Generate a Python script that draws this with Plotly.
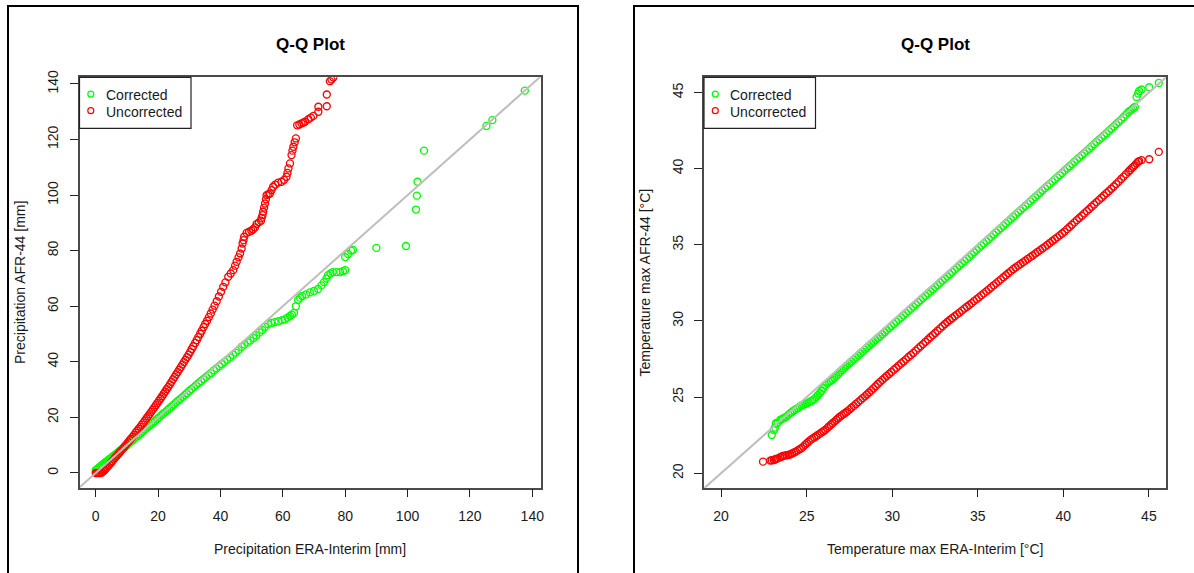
import plotly.graph_objects as go

# ---------------- data ----------------
# Precipitation quantiles [mm]: ERA-Interim (x) vs AFR-44 (y)
PR_ERA_COR = [0.0, 0.4, 0.8, 1.2, 1.7, 2.1, 2.6, 3.0, 3.5, 4.0, 4.5, 5.0, 5.5, 6.0, 6.6, 7.1, 7.7, 8.2, 8.8, 9.3,
              9.9, 10.5, 11.1, 11.7, 12.3, 12.9, 13.5, 14.1, 14.7, 15.3, 15.9, 16.5, 17.1, 17.8, 18.4, 19.0, 19.7,
              20.3, 21.0, 21.6, 22.3, 23.0, 23.6, 24.3, 25.0, 25.7, 26.4, 27.1, 27.8, 28.5, 29.2, 30.0, 30.7, 31.5,
              32.2, 33.0, 33.8, 34.6, 35.4, 36.2, 37.0, 37.9, 38.7, 39.6, 40.4, 41.3, 42.2, 43.1, 44.0, 44.9, 45.8,
              46.8, 47.7, 48.7, 49.6, 50.6, 51.5, 52.5, 53.4, 54.3, 55.3, 56.3, 57.4, 58.6, 59.8, 60.7, 61.5, 62.3,
              62.9, 63.6, 64.2, 64.9, 65.5, 66.2, 67.5, 68.7, 70.0, 71.3, 72.4, 73.2, 74.0, 74.5, 75.3, 76.0, 77.2,
              78.4, 79.3, 80.0, 80.0, 80.9, 81.9, 82.5, 90.0, 99.5, 102.7, 103.0, 103.2, 105.3, 125.3, 127.2, 137.6]
PR_AFR_COR = [1.0, 1.3, 1.7, 2.1, 2.6, 2.9, 3.4, 3.8, 4.2, 4.6, 5.1, 5.5, 6.0, 6.4, 6.9, 7.4, 8.0, 8.4, 9.0, 9.4,
              9.9, 10.5, 11.1, 11.6, 12.2, 12.8, 13.4, 13.9, 14.5, 15.1, 15.7, 16.3, 16.9, 17.5, 18.1, 18.7, 19.4,
              20.0, 20.7, 21.3, 21.9, 22.6, 23.2, 23.9, 24.6, 25.3, 26.0, 26.6, 27.3, 28.0, 28.7, 29.5, 30.2, 30.9,
              31.6, 32.4, 33.1, 33.8, 34.6, 35.3, 36.0, 36.9, 37.6, 38.4, 39.2, 40.0, 40.8, 41.6, 42.5, 43.3, 44.2,
              45.4, 46.2, 47.0, 47.7, 48.6, 49.5, 50.6, 51.5, 52.6, 53.6, 54.0, 54.3, 54.6, 55.0, 55.3, 55.9, 56.5,
              57.0, 57.6, 60.0, 62.3, 63.1, 63.7, 64.3, 65.0, 65.5, 66.2, 67.5, 68.7, 70.0, 71.2, 71.8, 72.3, 72.3,
              72.3, 72.6, 73.0, 77.7, 78.8, 80.0, 80.3, 81.0, 81.7, 94.8, 99.8, 104.8, 116.0, 124.9, 127.0, 137.6]

PR_ERA_UNC = [0.0, 0.3, 0.7, 1.0, 1.4, 1.8, 2.1, 2.5, 2.8, 3.2, 3.6, 4.0, 4.4, 4.9, 5.3, 5.8, 6.2, 6.7, 7.1, 7.6,
              8.0, 8.5, 9.0, 9.4, 9.9, 10.4, 10.9, 11.3, 11.8, 12.3, 12.8, 13.3, 13.8, 14.3, 14.8, 15.3, 15.8, 16.3,
              16.8, 17.3, 17.8, 18.3, 18.8, 19.3, 19.8, 20.3, 20.8, 21.3, 21.8, 22.3, 22.8, 23.3, 23.8, 24.3, 24.8,
              25.3, 25.8, 26.3, 26.8, 27.3, 27.8, 28.3, 28.8, 29.3, 29.8, 30.3, 30.8, 31.3, 31.9, 32.4, 32.9, 33.5,
              34.0, 34.6, 35.1, 35.7, 36.3, 36.9, 37.5, 38.1, 38.8, 39.5, 40.2, 40.9, 41.6, 42.5, 43.3, 44.1, 44.7,
              45.2, 45.8, 46.3, 46.8, 47.1, 47.4, 47.6, 48.4, 49.2, 49.9, 50.5, 51.1, 51.6, 52.3, 53.0, 53.2, 53.5,
              53.7, 54.0, 54.3, 54.6, 54.8, 55.4, 55.9, 56.4, 56.9, 57.6, 58.5, 59.6, 60.4, 61.2, 61.5, 61.8, 62.3,
              62.8, 63.1, 63.4, 63.8, 64.2, 64.6, 65.3, 66.0, 66.6, 67.1, 68.2, 69.0, 69.8, 71.4, 71.4, 74.1, 74.1,
              75.1, 75.6, 76.2]
PR_AFR_UNC = [0.0, 0.0, 0.0, 0.0, 0.0, 0.1, 0.3, 0.7, 1.0, 1.5, 2.0, 2.5, 3.0, 3.7, 4.2, 4.9, 5.5, 6.1, 6.6, 7.3,
              7.8, 8.5, 9.1, 9.7, 10.4, 11.1, 11.8, 12.3, 13.0, 13.7, 14.5, 15.2, 15.9, 16.6, 17.4, 18.1, 18.9, 19.7,
              20.4, 21.2, 22.0, 22.8, 23.6, 24.4, 25.2, 26.0, 26.8, 27.6, 28.5, 29.3, 30.2, 31.0, 31.9, 32.8, 33.7,
              34.6, 35.5, 36.3, 37.2, 38.1, 39.0, 39.9, 40.8, 41.7, 42.6, 43.6, 44.6, 45.6, 46.8, 47.8, 48.9, 50.1,
              51.2, 52.5, 53.6, 54.8, 56.1, 57.4, 58.8, 60.2, 61.8, 63.5, 65.2, 67.0, 68.6, 70.6, 71.8, 73.0, 74.6,
              76.0, 77.6, 79.0, 80.8, 82.6, 83.8, 85.0, 86.4, 86.8, 87.2, 87.7, 88.4, 89.6, 90.2, 90.8, 91.8, 92.8,
              94.0, 95.5, 97.0, 98.5, 100.0, 100.3, 100.6, 101.8, 103.0, 103.8, 104.5, 104.8, 105.5, 106.6, 108.0,
              109.6, 111.4, 114.4, 116.0, 117.4, 119.0, 120.4, 125.1, 125.4, 125.8, 126.1, 126.4, 127.3, 127.9,
              128.5, 130.0, 131.8, 132.0, 136.2, 141.0, 141.6, 142.3]

# Maximum temperature quantiles [°C]: ERA-Interim (x) vs AFR-44 (y)
TX_ERA = [22.45, 22.87, 22.96, 23.08, 23.15, 23.2, 23.3, 23.45, 23.55, 23.62, 23.72, 23.82, 23.94, 24.05, 24.15,
          24.26, 24.37, 24.48, 24.59, 24.69, 24.8, 24.9, 25.01, 25.12, 25.23, 25.33, 25.44, 25.55, 25.65, 25.77,
          25.87, 25.98, 26.08, 26.2, 26.3, 26.41, 26.51, 26.62, 26.73, 26.84, 26.94, 27.05, 27.16, 27.27, 27.37,
          27.5, 27.62, 27.75, 27.88, 28.01, 28.14, 28.27, 28.4, 28.52, 28.65, 28.78, 28.9, 29.03, 29.16, 29.29,
          29.42, 29.55, 29.68, 29.82, 29.95, 30.1, 30.24, 30.38, 30.52, 30.66, 30.8, 30.95, 31.09, 31.23, 31.38,
          31.52, 31.66, 31.8, 31.94, 32.09, 32.23, 32.37, 32.51, 32.65, 32.8, 32.94, 33.08, 33.22, 33.36, 33.5,
          33.65, 33.79, 33.93, 34.07, 34.22, 34.36, 34.5, 34.64, 34.78, 34.93, 35.07, 35.21, 35.35, 35.5, 35.64,
          35.78, 35.93, 36.07, 36.21, 36.35, 36.5, 36.64, 36.78, 36.93, 37.07, 37.21, 37.36, 37.5, 37.64, 37.78,
          37.93, 38.07, 38.21, 38.36, 38.5, 38.64, 38.78, 38.93, 39.07, 39.21, 39.36, 39.5, 39.64, 39.79, 39.93,
          40.07, 40.22, 40.36, 40.5, 40.65, 40.79, 40.93, 41.08, 41.22, 41.37, 41.51, 41.65, 41.8, 41.94, 42.09,
          42.23, 42.37, 42.52, 42.66, 42.8, 42.95, 43.09, 43.23, 43.38, 43.52, 43.66, 43.8, 43.89, 43.99, 44.08,
          44.18, 44.28, 44.37, 44.43, 44.57, 45.02, 45.58]
# corrected series starts at the third ERA quantile
TX_AFR_COR = [22.51, 22.84, 23.0, 23.28, 23.3, 23.5, 23.55, 23.6, 23.65, 23.72, 23.85, 23.95, 24.04, 24.12, 24.2,
              24.28, 24.37, 24.45, 24.5, 24.55, 24.59, 24.65, 24.72, 24.78, 24.85, 25.0, 25.12, 25.25, 25.42, 25.6,
              25.79, 25.9, 26.0, 26.07, 26.15, 26.27, 26.4, 26.52, 26.64, 26.76, 26.88, 26.99, 27.1, 27.22, 27.34,
              27.47, 27.6, 27.73, 27.86, 27.99, 28.12, 28.24, 28.37, 28.5, 28.62, 28.75, 28.88, 29.0, 29.13, 29.26,
              29.39, 29.53, 29.66, 29.81, 29.95, 30.09, 30.23, 30.37, 30.51, 30.66, 30.8, 30.94, 31.09, 31.23, 31.37,
              31.51, 31.65, 31.8, 31.94, 32.08, 32.22, 32.36, 32.51, 32.65, 32.79, 32.93, 33.07, 33.21, 33.36, 33.5,
              33.64, 33.79, 33.94, 34.08, 34.22, 34.37, 34.51, 34.66, 34.8, 34.95, 35.09, 35.24, 35.38, 35.52, 35.68,
              35.82, 35.96, 36.1, 36.25, 36.4, 36.54, 36.69, 36.84, 36.98, 37.13, 37.27, 37.41, 37.55, 37.7, 37.85,
              37.99, 38.14, 38.28, 38.42, 38.57, 38.72, 38.86, 39.0, 39.15, 39.29, 39.43, 39.58, 39.72, 39.87, 40.02,
              40.16, 40.3, 40.45, 40.59, 40.73, 40.88, 41.02, 41.17, 41.31, 41.46, 41.61, 41.75, 41.9, 42.04, 42.18,
              42.33, 42.48, 42.62, 42.77, 42.92, 43.06, 43.22, 43.38, 43.55, 43.7, 43.8, 43.88, 43.97, 44.06, 44.71,
              44.93, 45.1, 45.2, 45.35, 45.63]
TX_AFR_UNC = [20.76, 20.83, 20.85, 20.87, 20.9, 20.93, 20.98, 21.05, 21.1, 21.14, 21.16, 21.18, 21.2, 21.25, 21.3,
              21.36, 21.42, 21.5, 21.58, 21.64, 21.75, 21.86, 21.97, 22.08, 22.19, 22.27, 22.35, 22.43, 22.51, 22.6,
              22.68, 22.76, 22.84, 22.96, 23.07, 23.18, 23.28, 23.39, 23.5, 23.61, 23.71, 23.8, 23.89, 23.97, 24.06,
              24.18, 24.3, 24.42, 24.55, 24.67, 24.8, 24.93, 25.05, 25.17, 25.3, 25.44, 25.57, 25.71, 25.86, 26.0,
              26.13, 26.26, 26.39, 26.52, 26.65, 26.8, 26.93, 27.07, 27.21, 27.34, 27.48, 27.63, 27.76, 27.9, 28.05,
              28.2, 28.34, 28.48, 28.63, 28.78, 28.93, 29.07, 29.21, 29.36, 29.51, 29.65, 29.8, 29.93, 30.06, 30.18,
              30.31, 30.43, 30.55, 30.68, 30.81, 30.93, 31.05, 31.17, 31.3, 31.43, 31.55, 31.68, 31.81, 31.94, 32.07,
              32.2, 32.34, 32.47, 32.6, 32.73, 32.87, 33.0, 33.13, 33.27, 33.4, 33.51, 33.63, 33.74, 33.85, 33.96,
              34.08, 34.19, 34.3, 34.42, 34.54, 34.65, 34.76, 34.88, 35.0, 35.12, 35.25, 35.37, 35.49, 35.62, 35.74,
              35.87, 36.03, 36.17, 36.32, 36.47, 36.62, 36.76, 36.91, 37.06, 37.21, 37.35, 37.5, 37.65, 37.8, 37.95,
              38.09, 38.24, 38.39, 38.53, 38.68, 38.83, 38.99, 39.15, 39.32, 39.48, 39.64, 39.8, 39.9, 40.02, 40.12,
              40.23, 40.35, 40.45, 40.5, 40.56, 40.62, 41.1]

PR_TICKS = [0, 20, 40, 60, 80, 100, 120, 140]
TX_TICKS = [20, 25, 30, 35, 40, 45]

PR_RANGE_X = [-5.2, 142.8]
PR_RANGE_Y = [-5.3, 142.4]
TX_RANGE_X = [19.0, 46.0]
TX_RANGE_Y = [19.05, 46.0]

LEGEND_LABELS = ["Corrected", "Uncorrected"]
GREEN, RED, GREY = "#00ff00", "#ff0000", "#bebebe"

# ---------------- layout helpers (pixel -> paper) ----------------
W, H = 1194, 573
FONT = "Liberation Sans, Arial, sans-serif"
TXT = "#1a1a1a"


def fx(p):
    return p / W


def fy(p):
    return 1 - p / H


BOX_TOP, BOX_BOTTOM = 77.3, 487.7
PANELS = [
    dict(left=79.5, right=541.0, frame=(8, 578)),
    dict(left=704.0, right=1166.0, frame=(634, 1260)),
]

fig = go.Figure()


def point_trace(x, y, color, xa, ya):
    return go.Scatter(
        x=x, y=y, mode="markers", xaxis=xa, yaxis=ya, showlegend=False, hoverinfo="skip",
        marker=dict(symbol="circle-open", size=7, color=color, line=dict(width=1.35, color=color)),
    )


# left panel: precipitation
fig.add_trace(point_trace(PR_ERA_COR, PR_AFR_COR, GREEN, "x", "y"))
fig.add_trace(point_trace(PR_ERA_UNC, PR_AFR_UNC, RED, "x", "y"))
fig.add_trace(go.Scatter(x=PR_RANGE_X, y=PR_RANGE_X, mode="lines", xaxis="x", yaxis="y",
                         line=dict(color=GREY, width=2), showlegend=False, hoverinfo="skip"))

# right panel: maximum temperature
fig.add_trace(point_trace(TX_ERA[2:], TX_AFR_COR, GREEN, "x2", "y2"))
fig.add_trace(point_trace(TX_ERA, TX_AFR_UNC, RED, "x2", "y2"))
fig.add_trace(go.Scatter(x=TX_RANGE_X, y=TX_RANGE_X, mode="lines", xaxis="x2", yaxis="y2",
                         line=dict(color=GREY, width=2), showlegend=False, hoverinfo="skip"))

axis_style = dict(
    showline=True, mirror=True, linecolor="#4a4a4a", linewidth=1.5,
    ticks="outside", ticklen=8, tickwidth=1.3, tickcolor="#222222",
    showgrid=False, zeroline=False, automargin=False, fixedrange=True,
    tickfont=dict(family=FONT, size=14, color=TXT),
)

ydom = [fy(BOX_BOTTOM), fy(BOX_TOP)]
fig.update_layout(
    xaxis=dict(axis_style, domain=[fx(PANELS[0]["left"]), fx(PANELS[0]["right"])], range=PR_RANGE_X,
               tickvals=PR_TICKS, ticklabelstandoff=7, anchor="y"),
    yaxis=dict(axis_style, domain=ydom, range=PR_RANGE_Y, tickvals=PR_TICKS, tickangle=-90,
               ticklabelstandoff=6, anchor="x"),
    xaxis2=dict(axis_style, domain=[fx(PANELS[1]["left"]), fx(PANELS[1]["right"])], range=TX_RANGE_X,
                tickvals=TX_TICKS, ticklabelstandoff=7, anchor="y2"),
    yaxis2=dict(axis_style, domain=ydom, range=TX_RANGE_Y, tickvals=TX_TICKS, tickangle=-90,
                ticklabelstandoff=6, anchor="x2"),
)

shapes = []
annotations = []
titles = [
    ("Precipitation ERA-Interim [mm]", "Precipitation AFR-44 [mm]"),
    ("Temperature max ERA-Interim [°C]", "Temperature max AFR-44 [°C]"),
]
for panel, (xt, yt) in zip(PANELS, titles):
    l, r = panel["left"], panel["right"]
    cx = (l + r) / 2
    cy = (BOX_TOP + BOX_BOTTOM) / 2
    f0, f1 = panel["frame"]
    # outer frame of each figure
    shapes.append(dict(type="rect", xref="paper", yref="paper", x0=fx(f0), x1=fx(f1), y0=fy(6), y1=fy(640),
                       line=dict(color="#000000", width=2), layer="below"))
    # legend box
    shapes.append(dict(type="rect", xref="paper", yref="paper", x0=fx(l), x1=fx(l + 111.5),
                       y0=fy(BOX_TOP + 51), y1=fy(BOX_TOP), line=dict(color="#222222", width=1.2),
                       fillcolor="white", layer="above"))
    for k, (lab, col) in enumerate(zip(LEGEND_LABELS, [GREEN, RED])):
        sy = BOX_TOP + 16.8 + 16.6 * k
        shapes.append(dict(type="circle", xref="paper", yref="paper", x0=fx(l + 8.3), x1=fx(l + 14.3),
                           y0=fy(sy + 3), y1=fy(sy - 3), line=dict(color=col, width=1.2), layer="above"))
        annotations.append(dict(text=lab, xref="paper", yref="paper", x=fx(l + 24), y=fy(sy + 0.8),
                                xanchor="left", yanchor="middle", showarrow=False,
                                font=dict(family=FONT, size=14, color=TXT)))
    annotations.append(dict(text="<b>Q-Q Plot</b>", xref="paper", yref="paper", x=fx(cx), y=fy(44),
                            xanchor="center", yanchor="middle", showarrow=False,
                            font=dict(family=FONT, size=17, color="#000000")))
    annotations.append(dict(text=xt, xref="paper", yref="paper", x=fx(cx), y=fy(549),
                            xanchor="center", yanchor="middle", showarrow=False,
                            font=dict(family=FONT, size=14, color=TXT)))
    annotations.append(dict(text=yt, xref="paper", yref="paper", x=fx(l - 60), y=fy(cy),
                            xanchor="center", yanchor="middle", textangle=-90, showarrow=False,
                            font=dict(family=FONT, size=14, color=TXT)))

fig.update_layout(
    template="none",
    width=W, height=H,
    margin=dict(l=0, r=0, t=0, b=0, pad=0),
    paper_bgcolor="white", plot_bgcolor="white",
    shapes=shapes, annotations=annotations,
    showlegend=False,
)

fig.write_html("out.html", config={"displayModeBar": False})
